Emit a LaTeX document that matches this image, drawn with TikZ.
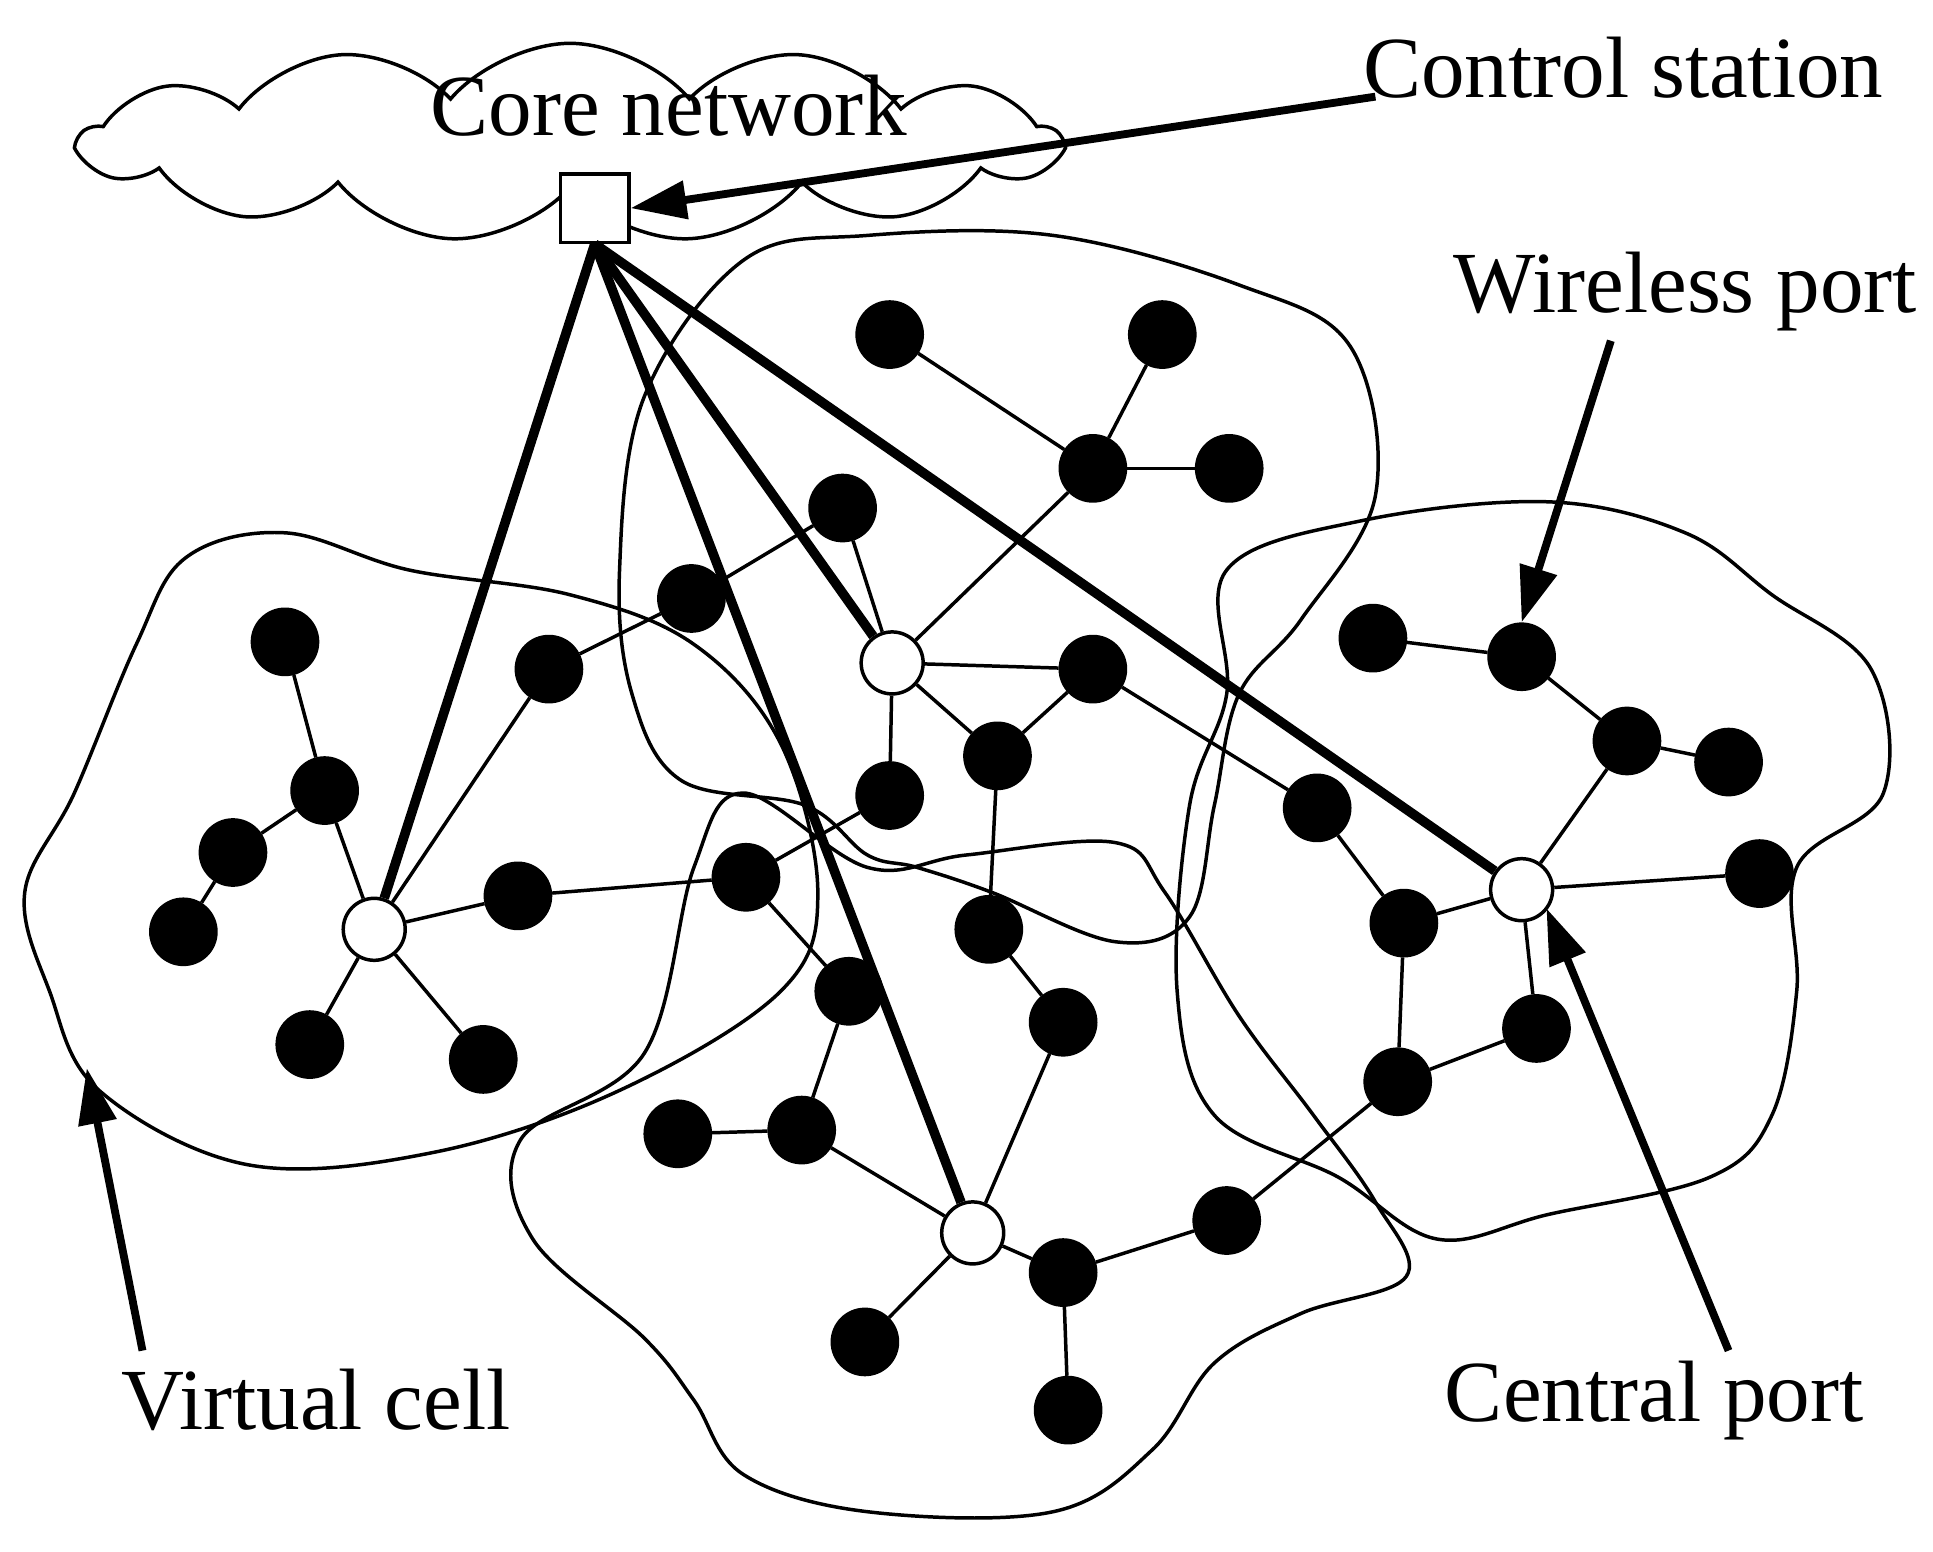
\documentclass[tikz,border=0pt]{standalone}
\usepackage{fontspec}
\setmainfont{Liberation Serif}
\usetikzlibrary{arrows.meta, shapes.symbols}

\begin{document}
\begin{tikzpicture}[
    x=0.01cm, y=-0.01cm,
    port/.style={circle, draw, fill=black, minimum size=0.54cm, inner sep=0pt},
    central/.style={circle, draw, thick, fill=white, minimum size=0.5cm, inner sep=0pt},
    label text/.style={font=\fontsize{20}{24}\selectfont},
    link/.style={thick},
    trunk/.style={line width=2.2pt},
    pointer/.style={-{Triangle[length=0.45cm, width=0.3cm]}, line width=1.8pt},
    cell/.style={thick}]
\useasboundingbox (0,0) rectangle (1560,1252);

% core network cloud
\node[cloud, draw, thick, cloud puffs=13, cloud puff arc=100, aspect=4.8,
      minimum width=7.9cm, minimum height=1.6cm] (cloud) at (460,115) {};
\node[label text] (core) at (540,85) {Core network};
\node[draw, thick, fill=white, minimum size=0.55cm, inner sep=0pt] (station) at (480,168) {};

% virtual cells
\draw[cell] plot[smooth cycle, tension=0.6] coordinates {(20,720) (60,640) (110,520) (150,450) (230,430) (330,460) (460,480) (560,520) (630,600) (660,720) (630,800) (500,880) (350,930) (200,940) (80,880) (40,800)};
\draw[cell] plot[smooth cycle, tension=0.6] coordinates {(520,320) (600,210) (700,190) (850,190) (1000,230) (1090,280) (1110,400) (1050,500) (1000,560) (980,650) (960,740) (900,760) (800,720) (740,700) (700,690) (650,650) (550,630) (510,560) (500,460)};
\draw[cell] plot[smooth cycle, tension=0.6] coordinates {(990,460) (1100,420) (1250,405) (1360,430) (1430,480) (1510,540) (1520,640) (1450,700) (1450,800) (1430,900) (1380,950) (1250,980) (1160,1000) (1080,950) (980,900) (950,800) (960,650) (990,560)};
\draw[cell] plot[smooth cycle, tension=0.6] coordinates {(420,920) (520,850) (560,700) (600,640) (700,700) (780,690) (900,680) (940,720) (1000,820) (1060,900) (1110,970) (1135,1030) (1050,1060) (980,1100) (930,1170) (850,1220) (700,1220) (600,1190) (560,1130) (520,1080) (430,1000)};

% central ports
\node[central] (c1) at (302,750) {};
\node[central] (c2) at (720,535) {};
\node[central] (c3) at (1228,718) {};
\node[central] (c4) at (785,995) {};

% wireless ports
\foreach \n/\x/\y in {a1/230/518, a2/262/638, a3/188/688, a4/148/752, a5/250/843, a6/390/855, a7/443/540, a8/418/723,
    b1/718/270, b2/938/270, b3/882/378, b4/992/378, b5/680/410, b6/558/483, b7/882/540, b8/805/610, b9/718/642, b10/602/708,
    r1/1108/515, r2/1228/530, r3/1313/598, r4/1395/615, r5/1420/705, r6/1063/652, r7/1133/745, r8/1240/830, r9/1128/873,
    d1/798/750, d2/685/800, d3/858/825, d4/547/915, d5/647/912, d6/858/1027, d7/990/985, d8/698/1083, d9/862/1138}
  \node[port] (\n) at (\x,\y) {};

% links
\foreach \p/\q in {a1/a2, a2/a3, a3/a4, a2/c1, c1/a5, c1/a6, c1/a7, c1/a8, a8/b10, a7/b6, b6/b5, b5/c2,
    b1/b3, b2/b3, b3/b4, b3/c2, c2/b7, c2/b8, b7/b8, c2/b9, b9/b10, b10/d2, b7/r6,
    r6/r7, r7/c3, r1/r2, r2/r3, r3/r4, r3/c3, c3/r5, c3/r8, r7/r9, r9/r8, r9/d7,
    d7/d6, d6/c4, d6/d9, c4/d8, c4/d5, d5/d4, d5/d2, d1/b8, d1/d3, d3/c4}
  \draw[link] (\p) -- (\q);

% trunks to the control station
\foreach \c in {c1, c4, c2, c3}
  \draw[trunk] (station.south) -- (\c);

% labels
\node[label text] (cs) at (1310,55) {Control station};
\node[label text] (wp) at (1360,235) {Wireless port};
\node[label text] (cp) at (1335,1130) {Central port};
\node[label text] (vc) at (255,1130) {Virtual cell};
\coordinate (csp) at (1110,78);
\coordinate (wpp) at (1300,275);
\coordinate (cpp) at (1395,1090);
\coordinate (vcp) at (115,1090);
\draw[pointer] (csp) -- (station.east);
\draw[pointer] (wpp) -- (r2.north);
\draw[pointer] (cpp) -- ([shift={(20,15)}]c3.center);
\draw[pointer] (vcp) -- (70,862);
\end{tikzpicture}
\end{document}
